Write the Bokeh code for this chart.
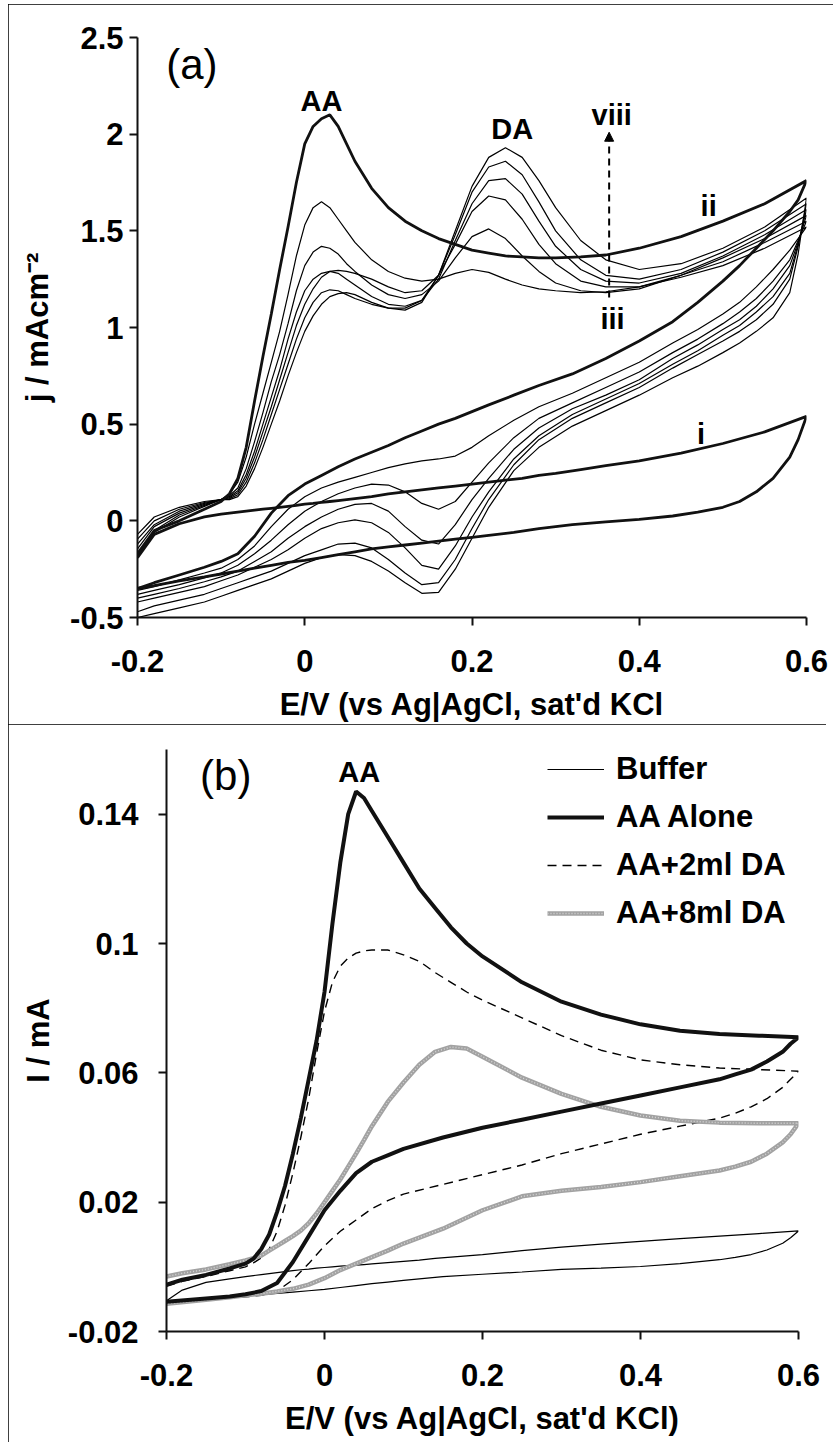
from bokeh.plotting import figure
from bokeh.layouts import column, row
from bokeh.models import FixedTicker, Legend, LegendItem, Arrow, NormalHead, Label, Spacer
from bokeh.core.properties import value
from bokeh.embed import file_html
from bokeh.resources import INLINE

# ---------------- Panel (a) data: j / mAcm-2 vs E / V ----------------
E_FWD_A = [-0.2, -0.18, -0.15, -0.12, -0.1, -0.09, -0.08, -0.07, -0.06, -0.05, -0.04, -0.03, -0.02, -0.01,
           0.0, 0.01, 0.02, 0.03, 0.04, 0.05, 0.06, 0.08, 0.1, 0.12, 0.14, 0.16, 0.18, 0.2, 0.22, 0.24,
           0.26, 0.28, 0.3, 0.33, 0.36, 0.4, 0.45, 0.5, 0.55, 0.6]
E_REV_A = [0.6, 0.59, 0.58, 0.56, 0.54, 0.52, 0.5, 0.47, 0.44, 0.4, 0.36, 0.32, 0.28, 0.25, 0.22, 0.2,
           0.18, 0.16, 0.14, 0.12, 0.1, 0.08, 0.06, 0.04, 0.02, 0.0, -0.02, -0.04, -0.06, -0.08, -0.1,
           -0.12, -0.15, -0.18, -0.2]

J_I_FWD = [-0.19, -0.07, -0.015, 0.02, 0.035, 0.04, 0.045, 0.05, 0.055, 0.06, 0.065, 0.07, 0.075, 0.08,
           0.086, 0.09, 0.095, 0.1, 0.105, 0.11, 0.115, 0.125, 0.14, 0.15, 0.16, 0.17, 0.18, 0.19, 0.2,
           0.21, 0.22, 0.235, 0.245, 0.265, 0.285, 0.31, 0.35, 0.4, 0.46, 0.54]
J_I_REV = [0.54, 0.42, 0.33, 0.22, 0.15, 0.10, 0.07, 0.045, 0.025, 0.008, -0.005, -0.02, -0.04, -0.06,
           -0.075, -0.085, -0.095, -0.105, -0.115, -0.125, -0.135, -0.145, -0.16, -0.175, -0.19, -0.205,
           -0.215, -0.23, -0.245, -0.26, -0.275, -0.29, -0.31, -0.335, -0.35]

J_II_FWD = [-0.17, -0.05, 0.0, 0.06, 0.10, 0.14, 0.22, 0.38, 0.62, 0.85, 1.07, 1.30, 1.52, 1.75, 1.95,
            2.04, 2.08, 2.10, 2.04, 1.95, 1.86, 1.72, 1.62, 1.55, 1.50, 1.46, 1.43, 1.40, 1.385, 1.37,
            1.365, 1.36, 1.36, 1.365, 1.375, 1.41, 1.47, 1.55, 1.64, 1.76]
J_II_REV = [1.76, 1.66, 1.60, 1.50, 1.41, 1.32, 1.24, 1.13, 1.03, 0.93, 0.84, 0.76, 0.70, 0.65, 0.60,
            0.565, 0.53, 0.5, 0.465, 0.43, 0.39, 0.355, 0.32, 0.28, 0.235, 0.19, 0.13, 0.04, -0.08,
            -0.17, -0.21, -0.24, -0.28, -0.32, -0.35]

J_THIN_FWD = {
    "iii": [-0.07, 0.02, 0.07, 0.10, 0.11, 0.14, 0.2, 0.33, 0.5, 0.66, 0.82, 0.98, 1.17, 1.37, 1.53, 1.62,
            1.65, 1.62, 1.56, 1.5, 1.44, 1.35, 1.29, 1.255, 1.24, 1.25, 1.28, 1.30, 1.285, 1.25, 1.22,
            1.2, 1.19, 1.18, 1.185, 1.21, 1.26, 1.32, 1.41, 1.52],
    "iv": [-0.095, 0.0, 0.06, 0.095, 0.11, 0.13, 0.17, 0.27, 0.41, 0.56, 0.72, 0.86, 1.02, 1.19, 1.32,
           1.39, 1.42, 1.41, 1.38, 1.33, 1.29, 1.22, 1.17, 1.15, 1.17, 1.24, 1.36, 1.47, 1.51, 1.46,
           1.37, 1.29, 1.23, 1.19, 1.18, 1.2, 1.27, 1.34, 1.44, 1.55],
    "v": [-0.12, -0.02, 0.05, 0.09, 0.11, 0.125, 0.155, 0.24, 0.36, 0.5, 0.64, 0.78, 0.94, 1.08, 1.19,
          1.25, 1.28, 1.29, 1.295, 1.29, 1.28, 1.25, 1.21, 1.18, 1.19, 1.27, 1.43, 1.6, 1.68, 1.66,
          1.56, 1.43, 1.33, 1.24, 1.21, 1.21, 1.27, 1.36, 1.46, 1.58],
    "vi": [-0.145, -0.03, 0.04, 0.085, 0.11, 0.12, 0.145, 0.22, 0.33, 0.46, 0.59, 0.73, 0.87, 1.01, 1.12,
           1.2, 1.26, 1.29, 1.28, 1.25, 1.22, 1.16, 1.12, 1.11, 1.14, 1.25, 1.45, 1.64, 1.76, 1.77,
           1.69, 1.55, 1.42, 1.3, 1.24, 1.23, 1.28, 1.37, 1.48, 1.61],
    "vii": [-0.17, -0.05, 0.03, 0.08, 0.11, 0.115, 0.135, 0.2, 0.3, 0.42, 0.55, 0.68, 0.81, 0.94, 1.05,
            1.13, 1.18, 1.195, 1.19, 1.17, 1.15, 1.12, 1.1, 1.1, 1.14, 1.27, 1.48, 1.7, 1.83, 1.86,
            1.79, 1.65, 1.5, 1.35, 1.27, 1.25, 1.3, 1.39, 1.5, 1.64],
    "viii": [-0.18, -0.06, 0.02, 0.075, 0.11, 0.11, 0.125, 0.18, 0.27, 0.38, 0.5, 0.62, 0.75, 0.87, 0.98,
             1.06, 1.12, 1.16, 1.175, 1.18, 1.17, 1.13, 1.1, 1.09, 1.13, 1.27, 1.5, 1.73, 1.88, 1.93,
             1.88, 1.76, 1.62, 1.45, 1.35, 1.3, 1.33, 1.41, 1.52, 1.67],
}
J_THIN_REV = {
    "iii": [1.52, 1.46, 1.40, 1.30, 1.21, 1.13, 1.07, 0.99, 0.92, 0.82, 0.74, 0.66, 0.59, 0.52, 0.44, 0.38,
            0.335, 0.32, 0.31, 0.295, 0.275, 0.25, 0.225, 0.2, 0.17, 0.125, 0.06, -0.03, -0.13, -0.2,
            -0.245, -0.27, -0.305, -0.34, -0.36],
    "iv": [1.55, 1.45, 1.35, 1.24, 1.15, 1.08, 1.02, 0.94, 0.87, 0.77, 0.69, 0.61, 0.53, 0.43, 0.3, 0.2,
           0.1, 0.06, 0.09, 0.15, 0.185, 0.19, 0.17, 0.14, 0.1, 0.05, -0.02, -0.1, -0.17, -0.23, -0.27,
           -0.295, -0.33, -0.36, -0.38],
    "v": [1.58, 1.44, 1.32, 1.2, 1.11, 1.04, 0.99, 0.91, 0.84, 0.73, 0.65, 0.58, 0.48, 0.37, 0.22, 0.11,
          -0.02, -0.12, -0.1, -0.03, 0.05, 0.09, 0.085, 0.06, 0.02, -0.03, -0.09, -0.16, -0.21, -0.26,
          -0.29, -0.315, -0.35, -0.38, -0.4],
    "vi": [1.61, 1.43, 1.28, 1.16, 1.08, 1.01, 0.96, 0.88, 0.81, 0.71, 0.63, 0.55, 0.44, 0.32, 0.15, 0.02,
           -0.13, -0.25, -0.23, -0.14, -0.06, -0.01, 0.005, -0.01, -0.04, -0.09, -0.15, -0.2, -0.24,
           -0.28, -0.31, -0.34, -0.37, -0.4, -0.42],
    "vii": [1.64, 1.42, 1.25, 1.12, 1.04, 0.98, 0.93, 0.86, 0.79, 0.69, 0.61, 0.53, 0.42, 0.29, 0.11,
            -0.04, -0.2, -0.32, -0.33, -0.27, -0.2, -0.14, -0.115, -0.12, -0.15, -0.18, -0.22, -0.26,
            -0.29, -0.32, -0.35, -0.38, -0.41, -0.44, -0.47],
    "viii": [1.67, 1.38, 1.18, 1.05, 0.98, 0.92, 0.87, 0.8, 0.74, 0.65, 0.57, 0.49, 0.38, 0.26, 0.07,
             -0.09, -0.25, -0.37, -0.375, -0.32, -0.26, -0.21, -0.18, -0.175, -0.19, -0.22, -0.26, -0.3,
             -0.33, -0.36, -0.39, -0.42, -0.45, -0.48, -0.5],
}

X_TICKS = [-0.2, 0.0, 0.2, 0.4, 0.6]
X_TICK_LABELS = ["-0.2", "0", "0.2", "0.4", "0.6"]
Y_TICKS_A = [-0.5, 0.0, 0.5, 1.0, 1.5, 2.0, 2.5]
Y_TICK_LABELS_A = ["-0.5", "0", "0.5", "1", "1.5", "2", "2.5"]
LABELS_A = ["AA", "DA", "viii", "iii", "ii", "i"]

# ---------------- Panel (b) data: I / mA vs E / V ----------------
E_FWD_B = [-0.2, -0.18, -0.15, -0.12, -0.1, -0.09, -0.08, -0.07, -0.06, -0.05, -0.04, -0.03, -0.02, -0.01,
           0.0, 0.01, 0.02, 0.03, 0.04, 0.05, 0.06, 0.08, 0.1, 0.12, 0.14, 0.16, 0.18, 0.2, 0.25, 0.3,
           0.35, 0.4, 0.45, 0.5, 0.55, 0.6]
E_REV_B = [0.6, 0.59, 0.58, 0.56, 0.54, 0.52, 0.5, 0.45, 0.4, 0.35, 0.3, 0.25, 0.2, 0.15, 0.1, 0.08,
           0.06, 0.04, 0.02, 0.0, -0.02, -0.04, -0.06, -0.08, -0.1, -0.12, -0.15, -0.2]

I_BUFFER_FWD = [-0.0105, -0.0072, -0.0048, -0.0037, -0.003, -0.0027, -0.0024, -0.0021, -0.0018, -0.0015,
                -0.0012, -0.0009, -0.0007, -0.0004, -0.0002, 0.0, 0.0002, 0.0004, 0.0005, 0.0007, 0.0009,
                0.0013, 0.0017, 0.0021, 0.0026, 0.003, 0.0034, 0.0038, 0.005, 0.0061, 0.007, 0.0079,
                0.0087, 0.0095, 0.0103, 0.0111]
I_BUFFER_REV = [0.0111, 0.009, 0.0073, 0.0052, 0.0038, 0.0029, 0.0022, 0.001, 0.0001, -0.0004, -0.0008,
                -0.0016, -0.0023, -0.003, -0.0042, -0.0047, -0.0052, -0.0058, -0.0064, -0.007, -0.0074,
                -0.0078, -0.0082, -0.0086, -0.009, -0.0093, -0.0098, -0.0108]
I_AA_FWD = [-0.0055, -0.004, -0.0025, -0.0005, 0.001, 0.0025, 0.0055, 0.01, 0.017, 0.025, 0.035, 0.046,
            0.058, 0.07, 0.085, 0.106, 0.125, 0.14, 0.147, 0.145, 0.141, 0.133, 0.125, 0.117, 0.111,
            0.105, 0.1, 0.096, 0.088, 0.082, 0.078, 0.075, 0.073, 0.072, 0.0715, 0.071]
I_AA_REV = [0.071, 0.069, 0.0665, 0.0635, 0.061, 0.0595, 0.058, 0.0555, 0.053, 0.0505, 0.048, 0.0455,
            0.043, 0.04, 0.0365, 0.0345, 0.0325, 0.029, 0.0235, 0.0175, 0.0095, 0.0015, -0.005, -0.0075,
            -0.0085, -0.0092, -0.0098, -0.0108]
I_DA2_FWD = [-0.006, -0.0045, -0.003, -0.0012, 0.0, 0.0012, 0.0028, 0.0055, 0.011, 0.019, 0.029, 0.04,
             0.052, 0.066, 0.079, 0.088, 0.093, 0.0955, 0.097, 0.0977, 0.098, 0.098, 0.0965, 0.0945,
             0.091, 0.088, 0.085, 0.0825, 0.077, 0.0715, 0.067, 0.064, 0.0625, 0.0615, 0.061, 0.0605]
I_DA2_REV = [0.0605, 0.058, 0.0555, 0.052, 0.0495, 0.0475, 0.046, 0.0435, 0.041, 0.038, 0.035, 0.0315,
             0.0285, 0.0255, 0.0225, 0.0205, 0.018, 0.0145, 0.011, 0.0065, 0.001, -0.004, -0.0075,
             -0.0088, -0.0093, -0.0097, -0.01, -0.0108]
I_DA8_FWD = [-0.003, -0.002, -0.0008, 0.0008, 0.002, 0.0027, 0.0035, 0.005, 0.0065, 0.008, 0.0095,
             0.0112, 0.0135, 0.0165, 0.02, 0.0235, 0.027, 0.031, 0.035, 0.0392, 0.0435, 0.051, 0.057,
             0.0625, 0.0665, 0.068, 0.0675, 0.065, 0.0585, 0.0535, 0.0495, 0.0468, 0.0452, 0.0446,
             0.0444, 0.0444]
I_DA8_REV = [0.0444, 0.041, 0.0385, 0.035, 0.0325, 0.031, 0.0298, 0.028, 0.0262, 0.0247, 0.0235, 0.0218,
             0.0175, 0.0118, 0.0072, 0.005, 0.003, 0.001, -0.001, -0.0035, -0.0055, -0.0068, -0.0076,
             -0.0083, -0.0088, -0.0094, -0.0102, -0.0114]

Y_TICKS_B = [-0.02, 0.02, 0.06, 0.1, 0.14]
Y_TICK_LABELS_B = ["-0.02", "0.02", "0.06", "0.1", "0.14"]
LEGEND_B = ["Buffer", "AA Alone", "AA+2ml DA", "AA+8ml DA"]

FONT = "Liberation Sans"


def loop(ef, vf, er, vr):
    n1 = min(len(ef), len(vf))
    n2 = min(len(er), len(vr))
    return list(ef[:n1]) + list(er[:n2]), list(vf[:n1]) + list(vr[:n2])


def style(p, yticks, ylabels, xtitle, ytitle, y_standoff, ytitle_standoff):
    p.grid.visible = False
    p.outline_line_color = None
    p.background_fill_color = "white"
    p.border_fill_color = "white"
    p.styles = {"outline": "2px solid black", "outline-offset": "-2px"}
    for ax in (p.xaxis[0], p.yaxis[0]):
        ax.axis_line_width = 2
        ax.axis_line_color = "#111111"
        ax.major_tick_line_width = 2
        ax.major_tick_line_color = "#111111"
        ax.major_tick_in = 0
        ax.major_tick_out = 8
        ax.minor_tick_out = 0
        ax.minor_tick_in = 0
        ax.major_label_text_font = FONT
        ax.major_label_text_font_style = "bold"
        ax.major_label_text_font_size = "31px"
        ax.major_label_text_color = "black"
        ax.axis_label_text_font = FONT
        ax.axis_label_text_font_style = "bold"
        ax.axis_label_text_font_size = "31px"
        ax.axis_label_text_color = "black"
    p.xaxis.ticker = FixedTicker(ticks=X_TICKS)
    p.xaxis.major_label_overrides = dict(zip(X_TICKS, X_TICK_LABELS))
    p.yaxis.ticker = FixedTicker(ticks=yticks)
    p.yaxis.major_label_overrides = dict(zip(yticks, ylabels))
    p.xaxis.axis_label = xtitle
    p.yaxis.axis_label = ytitle
    p.xaxis.major_label_standoff = 24
    p.xaxis.axis_label_standoff = 12
    p.yaxis.major_label_standoff = y_standoff
    p.yaxis.axis_label_standoff = ytitle_standoff


# ---------------- Figure (a) ----------------
pa = figure(frame_width=669, frame_height=580, min_border_left=129, min_border_right=27,
            min_border_top=33, min_border_bottom=105, x_range=(-0.2, 0.6), y_range=(-0.5, 2.5),
            output_backend="svg", toolbar_location=None)
style(pa, Y_TICKS_A, Y_TICK_LABELS_A, "E/V (vs Ag|AgCl, sat'd KCl", "j / mAcm\u207b\u00b2", 6, 12)

for key in ["iii", "iv", "v", "vi", "vii", "viii"]:
    xs, ys = loop(E_FWD_A, J_THIN_FWD[key], E_REV_A, J_THIN_REV[key])
    pa.line(xs, ys, line_color="black", line_width=1.2)
for fwd, rev in [(J_I_FWD, J_I_REV), (J_II_FWD, J_II_REV)]:
    xs, ys = loop(E_FWD_A, fwd, E_REV_A, rev)
    pa.line(xs, ys, line_color="#111111", line_width=2.8)

pa.text(x=[0.02, 0.248, 0.367, 0.368, 0.483, 0.474], y=[2.17, 2.025, 2.1, 1.046, 1.629, 0.448],
        text=LABELS_A, text_font=value(FONT), text_font_style="bold", text_font_size="29px",
        text_align="center", text_baseline="middle", text_color="black")
pa.add_layout(Arrow(end=NormalHead(size=9, fill_color="black", line_color="black", line_width=1),
                    x_start=0.364, y_start=1.155, x_end=0.364, y_end=2.01,
                    line_dash="7 5", line_width=2, line_color="black"))
pa.add_layout(Label(x=-0.135, y=2.36, text="(a)", text_font=FONT, text_font_size="42px",
                    text_align="center", text_baseline="middle", text_color="black"))

# ---------------- Figure (b) ----------------
pb = figure(frame_width=632, frame_height=582, min_border_left=158, min_border_right=28,
            min_border_top=25, min_border_bottom=113, x_range=(-0.2, 0.6), y_range=(-0.02, 0.16),
            output_backend="svg", toolbar_location=None)
style(pb, Y_TICKS_B, Y_TICK_LABELS_B, "E/V (vs Ag|AgCl, sat'd KCl)", "I / mA", 20, 9)

xs, ys = loop(E_FWD_B, I_BUFFER_FWD, E_REV_B, I_BUFFER_REV)
r_buf = pb.line(xs, ys, line_color="black", line_width=1.2)
xs, ys = loop(E_FWD_B, I_DA2_FWD, E_REV_B, I_DA2_REV)
r_da2 = pb.line(xs, ys, line_color="black", line_width=1.4, line_dash="9 6")
xs, ys = loop(E_FWD_B, I_DA8_FWD, E_REV_B, I_DA8_REV)
r_da8a = pb.line(xs, ys, line_color="#a2a2a2", line_width=4.5)
r_da8b = pb.line(xs, ys, line_color="#d6d6d6", line_width=1.4, line_dash="1 2")
xs, ys = loop(E_FWD_B, I_AA_FWD, E_REV_B, I_AA_REV)
r_aa = pb.line(xs, ys, line_color="#111111", line_width=4)

pb.text(x=[0.044], y=[0.153], text=["AA"], text_font=value(FONT), text_font_style="bold",
        text_font_size="29px", text_align="center", text_baseline="middle", text_color="black")
pb.add_layout(Label(x=-0.125, y=0.152, text="(b)", text_font=FONT, text_font_size="42px",
                    text_align="center", text_baseline="middle", text_color="black"))

legend = Legend(items=[LegendItem(label=LEGEND_B[0], renderers=[r_buf]),
                       LegendItem(label=LEGEND_B[1], renderers=[r_aa]),
                       LegendItem(label=LEGEND_B[2], renderers=[r_da2]),
                       LegendItem(label=LEGEND_B[3], renderers=[r_da8a, r_da8b])],
                location=(381, 400), label_text_font=FONT, label_text_font_style="bold",
                label_text_font_size="31px", label_text_color="black", glyph_width=57,
                glyph_height=20, label_height=36, spacing=12, padding=0, margin=0,
                label_standoff=12, border_line_color=None, background_fill_alpha=0)
pb.add_layout(legend)

layout = column(Spacer(width=8, height=4),
                row(Spacer(width=8, height=10), pa, spacing=0),
                row(Spacer(width=8, height=10), pb, spacing=0),
                spacing=0)
open("out.html", "w").write(file_html(layout, INLINE))
